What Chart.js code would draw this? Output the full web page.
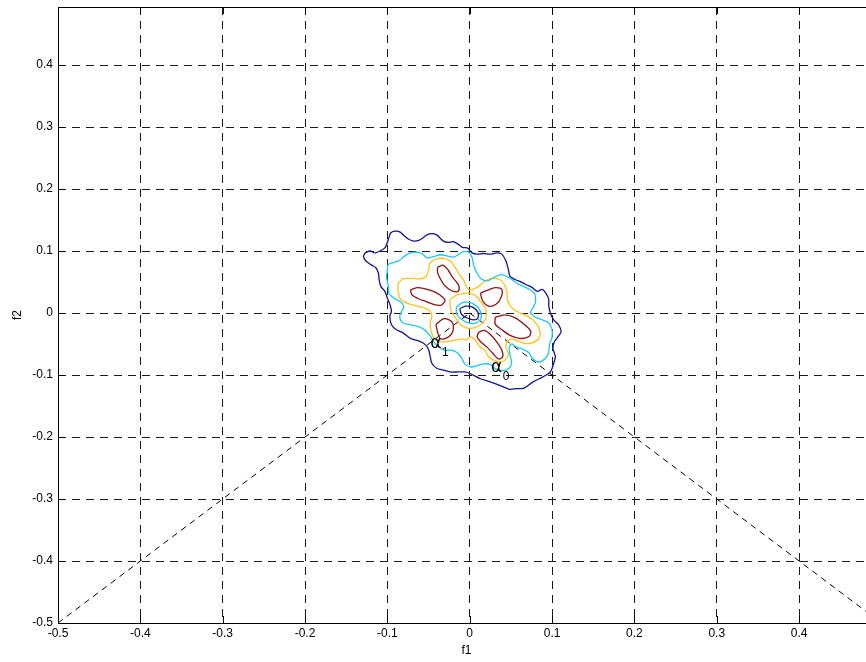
<!DOCTYPE html>
<html>
<head>
<meta charset="utf-8">
<script src="https://cdn.jsdelivr.net/npm/chart.js@4.4.1/dist/chart.umd.min.js"></script>
<style>
html,body{margin:0;padding:0;background:#fff;overflow:hidden;}
#wrap{position:absolute;left:0;top:0;width:880px;height:662px;}
</style>
</head>
<body>
<div id="wrap"><canvas id="c" width="880" height="662"></canvas></div>
<script>
// ---- axis ticks ----
const xTicks = [-0.5,-0.4,-0.3,-0.2,-0.1,0,0.1,0.2,0.3,0.4];
const yTicks = [-0.5,-0.4,-0.3,-0.2,-0.1,0,0.1,0.2,0.3,0.4];
const xRange = [-0.5, 0.4922];
const yRange = [-0.5, 0.4936];

// ---- contour lines [f1, f2] ----
const outerBlue = [
[-0.127,0.097],[-0.121,0.100],[-0.115,0.097],[-0.109,0.100],[-0.103,0.105],[-0.100,0.114],[-0.098,0.122],[-0.096,0.129],
[-0.091,0.132],[-0.085,0.131],[-0.080,0.125],[-0.074,0.119],[-0.068,0.116],[-0.062,0.117],[-0.057,0.121],[-0.052,0.126],
[-0.046,0.128],[-0.040,0.126],[-0.036,0.121],[-0.032,0.116],[-0.026,0.114],[-0.020,0.115],[-0.014,0.111],[-0.009,0.106],
[-0.003,0.105],[0.003,0.097],[0.009,0.095],[0.017,0.096],[0.025,0.095],[0.033,0.097],[0.039,0.095],[0.044,0.084],
[0.047,0.070],[0.049,0.059],[0.055,0.054],[0.061,0.051],[0.068,0.046],[0.076,0.041],[0.082,0.035],[0.088,0.038],
[0.093,0.031],[0.096,0.022],[0.096,0.011],[0.098,0.000],[0.102,-0.011],[0.108,-0.019],[0.111,-0.030],[0.108,-0.037],
[0.103,-0.046],[0.101,-0.057],[0.104,-0.070],[0.102,-0.081],[0.098,-0.095],[0.089,-0.103],[0.077,-0.111],[0.066,-0.121],
[0.057,-0.122],[0.048,-0.123],[0.037,-0.117],[0.025,-0.111],[0.013,-0.106],[0.001,-0.098],[-0.006,-0.095],[-0.014,-0.095],
[-0.024,-0.095],[-0.032,-0.092],[-0.040,-0.089],[-0.046,-0.081],[-0.048,-0.070],[-0.050,-0.059],[-0.054,-0.051],[-0.060,-0.046],
[-0.072,-0.041],[-0.081,-0.032],[-0.089,-0.027],[-0.095,-0.019],[-0.097,-0.005],[-0.095,0.003],[-0.097,0.014],[-0.100,0.024],
[-0.103,0.035],[-0.108,0.043],[-0.110,0.054],[-0.111,0.065],[-0.114,0.073],[-0.120,0.078],[-0.126,0.084],[-0.129,0.091]
];
const outerCyan = [
[-0.100,0.070],[-0.099,0.078],[-0.091,0.082],[-0.085,0.085],[-0.080,0.091],[-0.072,0.097],[-0.064,0.098],[-0.058,0.096],
[-0.052,0.089],[-0.044,0.091],[-0.036,0.094],[-0.028,0.092],[-0.020,0.090],[-0.014,0.094],[-0.008,0.099],[-0.001,0.098],
[0.003,0.089],[0.005,0.076],[0.009,0.064],[0.014,0.055],[0.022,0.052],[0.030,0.058],[0.039,0.062],[0.049,0.056],
[0.057,0.048],[0.065,0.043],[0.073,0.038],[0.079,0.031],[0.080,0.018],[0.077,0.009],[0.074,0.001],[0.080,-0.007],
[0.088,-0.011],[0.096,-0.016],[0.100,-0.027],[0.100,-0.039],[0.097,-0.050],[0.096,-0.063],[0.092,-0.073],[0.084,-0.079],
[0.076,-0.073],[0.072,-0.064],[0.064,-0.058],[0.057,-0.055],[0.051,-0.050],[0.048,-0.056],[0.049,-0.068],[0.051,-0.081],
[0.047,-0.090],[0.039,-0.093],[0.031,-0.090],[0.025,-0.083],[0.017,-0.082],[0.009,-0.085],[0.001,-0.087],[-0.006,-0.082],
[-0.010,-0.072],[-0.015,-0.064],[-0.023,-0.060],[-0.031,-0.060],[-0.038,-0.054],[-0.044,-0.046],[-0.048,-0.037],[-0.054,-0.028],
[-0.062,-0.022],[-0.072,-0.019],[-0.081,-0.016],[-0.085,-0.007],[-0.083,0.002],[-0.080,0.010],[-0.084,0.018],[-0.092,0.024],
[-0.098,0.032],[-0.099,0.045],[-0.101,0.058]
];
const outerOrange = [
[-0.087,0.048],[-0.081,0.055],[-0.070,0.056],[-0.061,0.055],[-0.053,0.059],[-0.050,0.070],[-0.048,0.081],[-0.041,0.087],
[-0.031,0.088],[-0.023,0.083],[-0.017,0.072],[-0.012,0.061],[-0.007,0.052],[-0.004,0.042],[0.000,0.037],[0.007,0.040],
[0.013,0.045],[0.019,0.052],[0.027,0.056],[0.036,0.054],[0.042,0.046],[0.045,0.035],[0.046,0.021],[0.050,0.010],
[0.058,0.002],[0.070,-0.005],[0.079,-0.014],[0.085,-0.028],[0.084,-0.041],[0.076,-0.048],[0.066,-0.049],[0.058,-0.045],
[0.051,-0.042],[0.046,-0.045],[0.044,-0.056],[0.047,-0.066],[0.043,-0.076],[0.036,-0.079],[0.029,-0.076],[0.023,-0.071],
[0.019,-0.061],[0.012,-0.054],[0.007,-0.044],[0.001,-0.038],[-0.004,-0.043],[-0.012,-0.042],[-0.019,-0.044],[-0.028,-0.046],
[-0.037,-0.046],[-0.043,-0.041],[-0.047,-0.029],[-0.048,-0.016],[-0.046,-0.005],[-0.049,0.004],[-0.057,0.009],[-0.066,0.012],
[-0.076,0.016],[-0.084,0.022],[-0.087,0.035]
];
const redUpperLeft = [[-0.039,0.074],[-0.032,0.077],[-0.026,0.069],[-0.021,0.058],[-0.016,0.050],[-0.013,0.043],[-0.014,0.035],[-0.020,0.035],[-0.026,0.039],[-0.032,0.047],[-0.036,0.056],[-0.039,0.065]];
const redLeft = [[-0.072,0.037],[-0.064,0.041],[-0.054,0.039],[-0.044,0.035],[-0.036,0.029],[-0.030,0.021],[-0.034,0.013],[-0.042,0.013],[-0.052,0.018],[-0.062,0.023],[-0.070,0.029]];
const redUpperRight = [[0.013,0.032],[0.022,0.037],[0.031,0.041],[0.039,0.038],[0.038,0.025],[0.032,0.014],[0.023,0.011],[0.016,0.019]];
const redLowerLeft = [[-0.041,-0.018],[-0.031,-0.009],[-0.022,-0.014],[-0.020,-0.027],[-0.025,-0.038],[-0.035,-0.042],[-0.039,-0.031]];
const redRight = [[0.031,-0.007],[0.042,-0.003],[0.054,-0.007],[0.066,-0.018],[0.074,-0.029],[0.072,-0.038],[0.061,-0.041],[0.049,-0.036],[0.039,-0.027],[0.031,-0.018]];
const redBottom = [[0.011,-0.031],[0.018,-0.028],[0.026,-0.036],[0.033,-0.047],[0.039,-0.060],[0.040,-0.071],[0.035,-0.074],[0.028,-0.065],[0.021,-0.055],[0.013,-0.046],[0.009,-0.038]];
const innerOrange = [[-0.024,0.022],[-0.016,0.029],[-0.003,0.032],[0.007,0.028],[0.014,0.017],[0.020,0.004],[0.019,-0.010],[0.011,-0.021],[-0.001,-0.025],[-0.011,-0.019],[-0.016,-0.010],[-0.023,0.005]];
const innerCyan = [[-0.016,0.010],[-0.008,0.017],[0.004,0.015],[0.012,0.005],[0.014,-0.008],[0.008,-0.016],[-0.002,-0.016],[-0.011,-0.009],[-0.016,-0.001]];
const innerBlue = [[-0.012,0.007],[-0.005,0.011],[0.004,0.009],[0.010,0.001],[0.010,-0.008],[0.005,-0.011],[-0.003,-0.008],[-0.010,-0.002]];

// ---- dashed guide lines ----
const guideLeft = [[-0.5,-0.5],[0,0]];
const guideRight = [[0,0],[0.5,-0.5]];

// ---- text labels ----
const labelAlpha1 = {f1:-0.048, f2:-0.056, sub:'1'};
const labelAlpha0 = {f1:0.026, f2:-0.095, sub:'0'};

const COL_BLUE = '#14148c', COL_CYAN = '#1ec8f5', COL_ORANGE = '#ffc21a', COL_RED = '#8c1414';
const FONT = '"Liberation Sans", Arial, Helvetica, sans-serif';

function closed(pts){ return pts.concat([pts[0]]).map(p => ({x:p[0], y:p[1]})); }
function open(pts){ return pts.map(p => ({x:p[0], y:p[1]})); }
function contour(pts, col){
  return {data: closed(pts), showLine:true, borderColor:col, backgroundColor:col, borderWidth:1.3,
          pointRadius:0, pointHoverRadius:0, tension:0.3, fill:false};
}
function guide(pts){
  return {data: open(pts), showLine:true, borderColor:'#000', borderWidth:1, borderDash:[6,5],
          pointRadius:0, pointHoverRadius:0, tension:0, fill:false};
}
function fmt(v){ if (Math.abs(v) < 1e-9) return '0'; return String(Math.round(v*10)/10); }

const decor = {
  id:'decor',
  afterDraw(chart){
    const {ctx, chartArea:a, scales:{x, y}} = chart;
    ctx.save();
    ctx.strokeStyle = '#000'; ctx.lineWidth = 1; ctx.setLineDash([]);
    ctx.beginPath();
    ctx.moveTo(Math.round(a.left)+0.5, Math.round(a.bottom)+0.5);
    ctx.lineTo(Math.round(a.left)+0.5, Math.round(a.top)+0.5);
    ctx.lineTo(Math.round(a.right)+0.5, Math.round(a.top)+0.5);
    ctx.moveTo(Math.round(a.left)+0.5, Math.round(a.bottom)+0.5);
    ctx.lineTo(Math.round(a.right)+0.5, Math.round(a.bottom)+0.5);
    ctx.stroke();
    const tl = 7;
    ctx.beginPath();
    xTicks.forEach(v => { const px = Math.round(x.getPixelForValue(v))+0.5;
      ctx.moveTo(px, a.bottom); ctx.lineTo(px, a.bottom - tl);
      ctx.moveTo(px, a.top); ctx.lineTo(px, a.top + tl); });
    yTicks.forEach(v => { const py = Math.round(y.getPixelForValue(v))+0.5;
      ctx.moveTo(a.left, py); ctx.lineTo(a.left + tl, py); });
    ctx.stroke();
    // alpha labels
    ctx.fillStyle = '#000';
    ctx.textBaseline = 'alphabetic'; ctx.textAlign = 'left';
    [labelAlpha1, labelAlpha0].forEach(L => {
      const px = x.getPixelForValue(L.f1), py = y.getPixelForValue(L.f2);
      ctx.font = '17px "DejaVu Sans", sans-serif';
      ctx.fillText('\u03b1', px, py);
      const w = ctx.measureText('\u03b1').width;
      ctx.font = '12px ' + FONT;
      ctx.fillText(L.sub, px + w + 0.5, py + 8);
    });
    ctx.restore();
  }
};

new Chart(document.getElementById('c'), {
  type:'scatter',
  data:{ datasets:[
    contour(outerBlue, COL_BLUE),
    contour(outerCyan, COL_CYAN),
    contour(outerOrange, COL_ORANGE),
    contour(redUpperLeft, COL_RED),
    contour(redLeft, COL_RED),
    contour(redUpperRight, COL_RED),
    contour(redLowerLeft, COL_RED),
    contour(redRight, COL_RED),
    contour(redBottom, COL_RED),
    contour(innerOrange, COL_ORANGE),
    contour(innerCyan, COL_CYAN),
    contour(innerBlue, COL_BLUE),
    guide(guideLeft),
    guide(guideRight)
  ]},
  options:{
    responsive:false, animation:false, devicePixelRatio:1,
    layout:{padding:{top:7, right:5, left:0, bottom:0}},
    plugins:{legend:{display:false}, tooltip:{enabled:false}},
    events:[],
    scales:{
      x:{type:'linear', position:'bottom', min:xRange[0], max:xRange[1],
         afterFit(s){ s.height = 39; s.paddingLeft = 0; s.paddingRight = 0; },
         afterBuildTicks(s){ s.ticks = xTicks.map(v => ({value:v})); },
         ticks:{stepSize:0.1, includeBounds:false, autoSkip:false, maxRotation:0, padding:3, color:'#000',
                font:{family:FONT, size:12}, callback:fmt},
         grid:{color:'#1a1a1a', lineWidth:1, drawTicks:false},
         border:{display:false, dash:[8,6]},
         title:{display:true, text:'f1', color:'#000', font:{family:FONT, size:12}, padding:{top:0, bottom:4}}},
      y:{type:'linear', position:'left', min:yRange[0], max:yRange[1],
         afterFit(s){ s.width = 58; s.paddingTop = 0; s.paddingBottom = 0; },
         afterBuildTicks(s){ s.ticks = yTicks.map(v => ({value:v})); },
         ticks:{stepSize:0.1, includeBounds:false, autoSkip:false, padding:5, color:'#000',
                font:{family:FONT, size:12}, callback:fmt},
         grid:{color:'#1a1a1a', lineWidth:1, drawTicks:false},
         border:{display:false, dash:[8,6]},
         title:{display:true, text:'f2', color:'#000', font:{family:FONT, size:12}, padding:{top:10, bottom:0}}}
    }
  },
  plugins:[decor]
});
</script>
</body>
</html>
